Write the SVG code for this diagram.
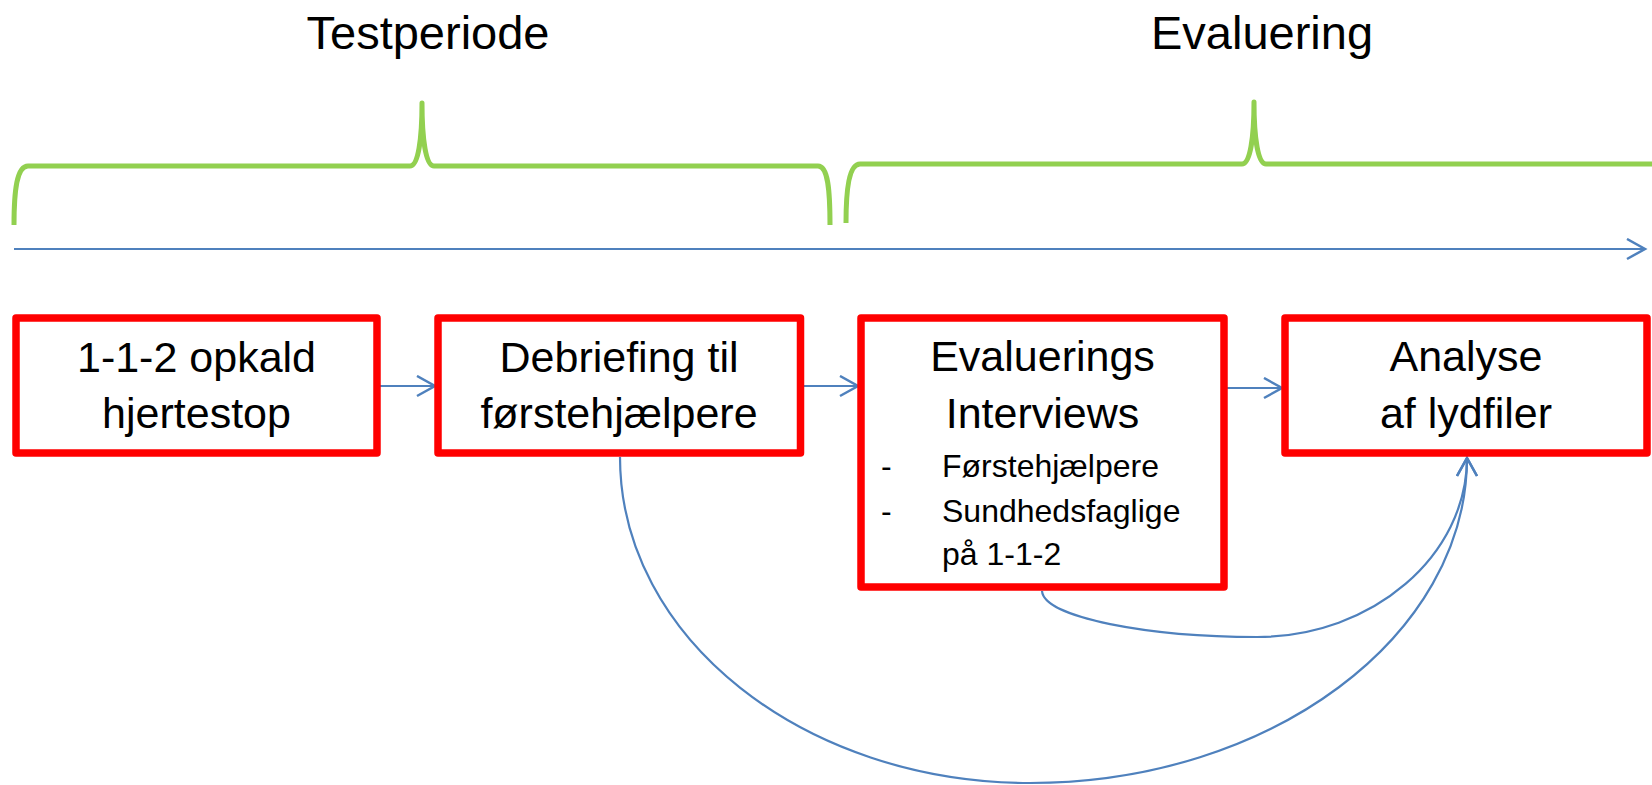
<svg xmlns="http://www.w3.org/2000/svg" width="1652" height="785" viewBox="0 0 1652 785">
<style>
.title{font-family:"Liberation Sans",Arial,sans-serif;font-size:47px;fill:#000;text-anchor:middle}
.lbl{font-family:"Liberation Sans",Arial,sans-serif;font-size:43px;fill:#000;text-anchor:middle}
.sm{font-family:"Liberation Sans",Arial,sans-serif;font-size:32px;fill:#000}
.box{fill:#fff;stroke:#ff0000;stroke-width:7.5;stroke-linejoin:round}
.brace{fill:none;stroke:#92d050;stroke-width:5;stroke-linejoin:round}
.conn{fill:none;stroke:#4f81bd;stroke-width:2.2}
</style>
<defs>
<marker id="arr" markerUnits="userSpaceOnUse" markerWidth="24" markerHeight="24" refX="19" refY="11" orient="auto">
<path d="M1,1 L19,11 L1,21" fill="none" stroke="#4f81bd" stroke-width="2.5"/>
</marker>
</defs>
<rect width="1652" height="785" fill="#fff"/>
<g id="titles">
<text class="title" x="428" y="49">Testperiode</text>
<text class="title" x="1262" y="49">Evaluering</text>
</g>
<g id="braces">
<path class="brace" d="M14,225 C14,190 17,166 28,166 L410,166 C418,166 422,140 422,103 C422,140 426,166 434,166 L818,166 C828,166 830,190 830,225"/>
<path class="brace" d="M846,223 C846,190 849,164 860,164 L1242,164 C1250,164 1254,138 1254,102 C1254,138 1258,164 1266,164 L1660,164"/>
</g>
<g id="connectors">
<line class="conn" x1="14" y1="249" x2="1645" y2="249" marker-end="url(#arr)"/>
<line class="conn" x1="380" y1="386" x2="435" y2="386" marker-end="url(#arr)"/>
<line class="conn" x1="804" y1="386" x2="858" y2="386" marker-end="url(#arr)"/>
<line class="conn" x1="1227" y1="388" x2="1282" y2="388" marker-end="url(#arr)"/>
<path class="conn" d="M620,457 C620,638 804,783 1030,783 C1271,783 1467,636 1467,458" marker-end="url(#arr)"/>
<path class="conn" d="M1042,591 C1044,618 1150,637 1257,637 C1373,637 1467,555 1467,458" marker-end="url(#arr)"/>
</g>
<g id="node1">
<rect class="box" x="16" y="318" width="361" height="135"/>
<text class="lbl" x="196.5" y="372">1-1-2 opkald</text>
<text class="lbl" x="196.5" y="428">hjertestop</text>
</g>
<g id="node2">
<rect class="box" x="438" y="318" width="362.5" height="135"/>
<text class="lbl" x="619" y="372">Debriefing til</text>
<text class="lbl" x="619" y="428">førstehjælpere</text>
</g>
<g id="node3">
<rect class="box" x="861" y="318" width="363" height="269"/>
<text class="lbl" x="1042.5" y="371">Evaluerings</text>
<text class="lbl" x="1042.5" y="428">Interviews</text>
<text class="sm" x="881" y="477">-</text>
<text class="sm" x="942" y="477">Førstehjælpere</text>
<text class="sm" x="881" y="522">-</text>
<text class="sm" x="942" y="522">Sundhedsfaglige</text>
<text class="sm" x="942" y="565">på 1-1-2</text>
</g>
<g id="node4">
<rect class="box" x="1285" y="318" width="362" height="135"/>
<text class="lbl" x="1466" y="371">Analyse</text>
<text class="lbl" x="1466" y="428">af lydfiler</text>
</g>
</svg>
